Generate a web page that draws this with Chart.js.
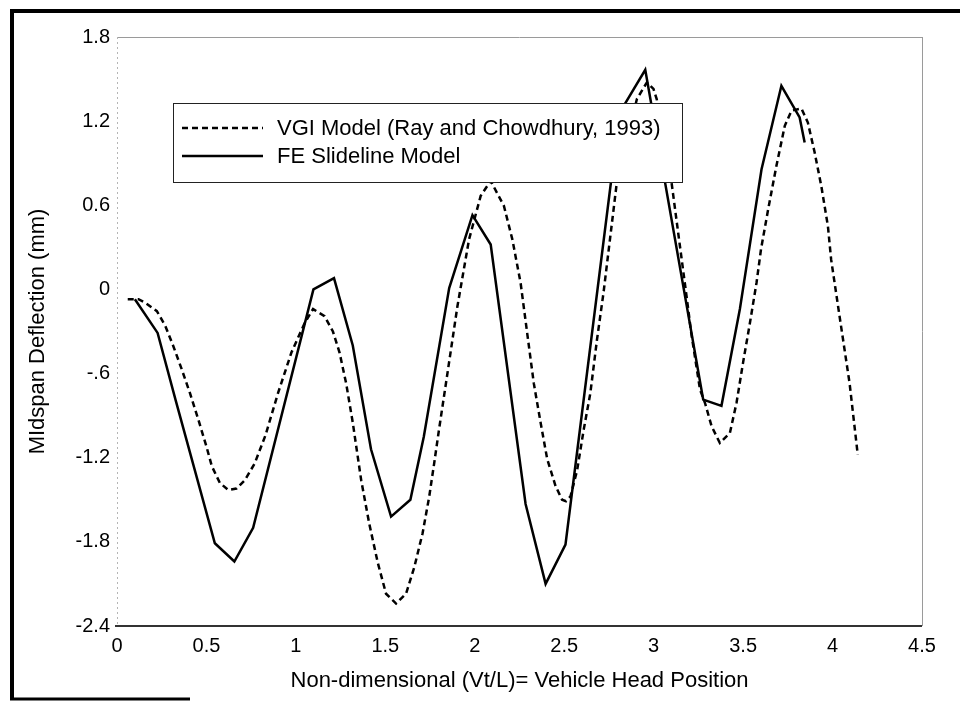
<!DOCTYPE html>
<html>
<head>
<meta charset="utf-8">
<script src="https://cdn.jsdelivr.net/npm/chart.js@4.4.0/dist/chart.umd.min.js"></script>
<style>
  html, body { margin: 0; padding: 0; background: #fff; }
  #wrap { width: 960px; height: 702px; position: relative; }
</style>
</head>
<body>
<div id="wrap"><canvas id="c" width="960" height="702"></canvas></div>
<script>
// ---- data ----
const vgiLabel = 'VGI Model (Ray and Chowdhury, 1993)';
const feLabel = 'FE Slideline Model';

const vgiX = [0.06, 0.12, 0.158, 0.223, 0.27, 0.315, 0.362, 0.408, 0.455, 0.50, 0.53, 0.575, 0.622, 0.668, 0.715, 0.77, 0.83, 0.90, 0.975, 1.049, 1.096, 1.16, 1.207, 1.244, 1.281, 1.318, 1.365, 1.41, 1.458, 1.504, 1.56, 1.616, 1.662, 1.708, 1.745, 1.773, 1.80, 1.847, 1.903, 1.968, 2.033, 2.089, 2.163, 2.21, 2.256, 2.30, 2.33, 2.368, 2.405, 2.451, 2.488, 2.51, 2.535, 2.572, 2.609, 2.646, 2.683, 2.72, 2.794, 2.906, 2.962, 2.999, 3.017, 3.10, 3.184, 3.21, 3.259, 3.287, 3.324, 3.37, 3.426, 3.463, 3.50, 3.538, 3.575, 3.60, 3.64, 3.686, 3.733, 3.77, 3.826, 3.862, 3.90, 3.937, 3.974, 3.992, 4.039, 4.095, 4.141];
const vgiY = [-0.07, -0.07, -0.095, -0.155, -0.26, -0.405, -0.57, -0.74, -0.93, -1.12, -1.26, -1.38, -1.43, -1.42, -1.36, -1.24, -1.04, -0.74, -0.45, -0.24, -0.14, -0.19, -0.30, -0.45, -0.67, -0.95, -1.36, -1.67, -1.95, -2.17, -2.24, -2.17, -1.98, -1.74, -1.48, -1.24, -1.0, -0.60, -0.12, 0.357, 0.667, 0.774, 0.595, 0.357, 0.048, -0.38, -0.67, -0.95, -1.21, -1.40, -1.50, -1.51, -1.476, -1.29, -1.0, -0.74, -0.36, -0.02, 0.762, 1.357, 1.476, 1.43, 1.357, 0.762, -0.05, -0.31, -0.714, -0.81, -0.976, -1.095, -1.024, -0.81, -0.52, -0.24, 0.048, 0.286, 0.571, 0.88, 1.167, 1.274, 1.29, 1.19, 0.976, 0.738, 0.452, 0.214, -0.19, -0.667, -1.18];

const feX = [0.10, 0.227, 0.33, 0.547, 0.656, 0.761, 1.098, 1.213, 1.318, 1.42, 1.532, 1.64, 1.715, 1.857, 1.987, 2.089, 2.284, 2.396, 2.507, 2.81, 2.953, 3.277, 3.379, 3.482, 3.603, 3.714, 3.816, 3.844];
const feY = [-0.07, -0.31, -0.80, -1.81, -1.94, -1.70, 0.0, 0.08, -0.40, -1.14, -1.62, -1.50, -1.05, 0.01, 0.53, 0.32, -1.53, -2.10, -1.82, 1.26, 1.566, -0.786, -0.83, -0.14, 0.857, 1.452, 1.226, 1.048];

const xTickLabels = ['0', '0.5', '1', '1.5', '2', '2.5', '3', '3.5', '4', '4.5'];
const yTickLabels = ['-2.4', '-1.8', '-1.2', '-.6', '0', '0.6', '1.2', '1.8'];
const xTitle = 'Non-dimensional (Vt/L)= Vehicle Head Position';
const yTitle = 'MIdspan Deflection (mm)';

// ---- build ----
const toPts = (xs, ys) => xs.map((x, i) => ({ x: x, y: ys[i] }));
const FONT = 'Liberation Sans, Arial, Helvetica, sans-serif';

const framePlugin = {
  id: 'frame',
  beforeDraw(chart) {
    const ctx = chart.ctx;
    ctx.save();
    ctx.fillStyle = '#fff';
    ctx.fillRect(0, 0, chart.width, chart.height);
    // outer thick frame
    ctx.strokeStyle = '#000';
    ctx.lineWidth = 4;
    ctx.beginPath();
    ctx.moveTo(12, 699); ctx.lineTo(12, 11); ctx.lineTo(960, 11);
    ctx.stroke();
    ctx.lineWidth = 3;
    ctx.beginPath();
    ctx.moveTo(10, 699); ctx.lineTo(190, 699);
    ctx.stroke();
    ctx.restore();
  },
  beforeDatasetsDraw(chart) {
    const { ctx, chartArea: a } = chart;
    ctx.save();
    // top and right border (light)
    ctx.strokeStyle = '#9a9a9a';
    ctx.lineWidth = 1;
    ctx.beginPath();
    ctx.moveTo(a.left, a.top + 0.5); ctx.lineTo(a.right, a.top + 0.5);
    ctx.moveTo(a.right + 0.5, a.top); ctx.lineTo(a.right + 0.5, a.bottom);
    ctx.stroke();
    // left axis (dotted light)
    ctx.strokeStyle = '#b5b5b5';
    ctx.setLineDash([2, 3]);
    ctx.beginPath();
    ctx.moveTo(a.left + 0.5, a.top); ctx.lineTo(a.left + 0.5, a.bottom);
    ctx.stroke();
    ctx.setLineDash([]);
    // bottom axis (dark)
    ctx.strokeStyle = '#333';
    ctx.lineWidth = 2;
    ctx.beginPath();
    ctx.moveTo(a.left - 2, a.bottom); ctx.lineTo(a.right, a.bottom);
    ctx.stroke();
    ctx.restore();
  },
  afterDraw(chart) {
    const ctx = chart.ctx;
    ctx.save();
    // legend box
    const bx = 173, by = 103, bw = 509, bh = 79;
    ctx.fillStyle = '#fff';
    ctx.fillRect(bx, by, bw, bh);
    ctx.strokeStyle = '#222';
    ctx.lineWidth = 1;
    ctx.strokeRect(bx + 0.5, by + 0.5, bw, bh);
    const ds = chart.data.datasets;
    const rows = [128, 156];
    ds.forEach((d, i) => {
      const y = rows[i];
      ctx.strokeStyle = '#000';
      ctx.lineWidth = d.borderWidth;
      ctx.setLineDash(d.borderDash || []);
      ctx.beginPath();
      ctx.moveTo(182, y); ctx.lineTo(263, y);
      ctx.stroke();
      ctx.setLineDash([]);
      ctx.fillStyle = '#000';
      ctx.font = '22px ' + FONT;
      ctx.textBaseline = 'middle';
      ctx.textAlign = 'left';
      ctx.fillText(d.label, 277, y + 1);
    });
    ctx.restore();
  }
};

new Chart(document.getElementById('c'), {
  type: 'scatter',
  data: {
    datasets: [
      {
        label: vgiLabel,
        data: toPts(vgiX, vgiY),
        showLine: true,
        borderColor: '#000',
        borderWidth: 2.5,
        borderDash: [6, 4],
        pointRadius: 0,
        fill: false,
        tension: 0
      },
      {
        label: feLabel,
        data: toPts(feX, feY),
        showLine: true,
        borderColor: '#000',
        borderWidth: 2.5,
        pointRadius: 0,
        fill: false,
        tension: 0
      }
    ]
  },
  options: {
    responsive: false,
    animation: false,
    devicePixelRatio: 1,
    layout: { padding: { left: 0, top: 37, right: 38, bottom: 0 } },
    plugins: {
      legend: { display: false },
      tooltip: { enabled: false }
    },
    scales: {
      x: {
        type: 'linear',
        min: 0, max: 4.5,
        grid: { display: false, drawTicks: false },
        border: { display: false },
        ticks: {
          stepSize: 0.5,
          padding: 8,
          color: '#000',
          font: { family: FONT, size: 20 },
          maxRotation: 0,
          callback: (v, i) => xTickLabels[i]
        },
        title: {
          display: true,
          text: xTitle,
          color: '#000',
          font: { family: FONT, size: 22 },
          padding: { top: 0, bottom: 8 }
        },
        afterFit: (s) => { s.height = 76; }
      },
      y: {
        type: 'linear',
        min: -2.4, max: 1.8,
        grid: { display: false, drawTicks: false },
        border: { display: false },
        ticks: {
          stepSize: 0.6,
          padding: 7,
          color: '#000',
          font: { family: FONT, size: 20 },
          callback: (v, i) => yTickLabels[i]
        },
        title: {
          display: true,
          text: yTitle,
          color: '#000',
          font: { family: FONT, size: 22 },
          padding: { top: 25, bottom: 0 }
        },
        afterFit: (s) => { s.width = 117; }
      }
    }
  },
  plugins: [framePlugin]
});
</script>
</body>
</html>
